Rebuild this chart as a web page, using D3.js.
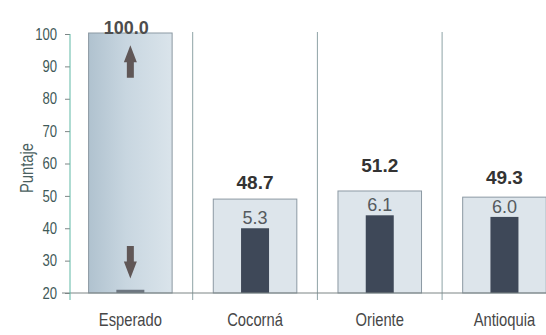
<!DOCTYPE html>
<html>
<head>
<meta charset="utf-8">
<script src="https://cdn.jsdelivr.net/npm/d3@7/dist/d3.min.js"></script>
<style>
  html, body { margin: 0; padding: 0; background: #ffffff; }
  svg { display: block; }
</style>
</head>
<body>
<div id="chart"></div>
<script>
// ---- data ----
const categories = ["Esperado", "Cocorná", "Oriente", "Antioquia"];
const scores = [100.0, 48.7, 51.2, 49.3];
const scoreLabels = ["100.0", "48.7", "51.2", "49.3"];
const deviations = [1.5, 5.3, 6.1, 6.0];
const deviationLabels = ["", "5.3", "6.1", "6.0"];
const yTicks = [20, 30, 40, 50, 60, 70, 80, 90, 100];
const yTitle = "Puntaje";

// ---- layout / style ----
const W = 546, H = 335;
const plot = { left: 68, top: 34, bottom: 293, bandWidth: 124.7 };
const labelOffsets = [0, 11, 20, 14];
const squeeze = 0.82; // condensed look of the original sans face
const font = "'Liberation Sans', Arial, sans-serif";

const svg = d3.select("#chart").append("svg")
  .attr("width", W).attr("height", H);

const defs = svg.append("defs");
const grad = defs.append("linearGradient").attr("id", "espGrad")
  .attr("x1", "0%").attr("x2", "100%").attr("y1", "0%").attr("y2", "0%");
grad.append("stop").attr("offset", "0%").attr("stop-color", "#b0c2cf");
grad.append("stop").attr("offset", "45%").attr("stop-color", "#c8d6e0");
grad.append("stop").attr("offset", "100%").attr("stop-color", "#dae4eb");

const x = d3.scaleBand()
  .domain(categories)
  .range([plot.left, plot.left + plot.bandWidth * categories.length])
  .paddingInner(0.33).paddingOuter(0.165);

const xBand = d3.scaleBand()
  .domain(categories)
  .range([plot.left, plot.left + plot.bandWidth * categories.length]);

const y = d3.scaleLinear().domain([20, 100]).range([plot.bottom, plot.top]);
// secondary scale for the dark (inner) bars
const y2 = d3.scaleLinear().domain([1.3, 17.3]).range([plot.bottom, plot.top]);

// category separators
svg.append("g").selectAll("line")
  .data(categories.slice(1))
  .join("line")
  .attr("x1", d => xBand(d)).attr("x2", d => xBand(d))
  .attr("y1", plot.top - 2).attr("y2", plot.bottom + 7)
  .attr("stroke", "#8ea3a6").attr("stroke-width", 1);

// outer bars
svg.append("g").selectAll("rect")
  .data(categories)
  .join("rect")
  .attr("x", d => x(d))
  .attr("width", x.bandwidth())
  .attr("y", (d, i) => y(scores[i]) - 1)
  .attr("height", (d, i) => plot.bottom - y(scores[i]) + 1)
  .attr("fill", (d, i) => i === 0 ? "url(#espGrad)" : "#dde5eb")
  .attr("stroke", "#8c99a3").attr("stroke-width", 1);

// inner dark bars
const innerW = 28;
svg.append("g").selectAll("rect")
  .data(categories)
  .join("rect")
  .attr("x", d => x(d) + x.bandwidth() / 2 - innerW / 2)
  .attr("width", innerW)
  .attr("y", (d, i) => y2(deviations[i]))
  .attr("height", (d, i) => plot.bottom - y2(deviations[i]))
  .attr("fill", (d, i) => i === 0 ? "#6d7680" : "#3e4858");

// arrows in the Esperado bar
const ax = x(categories[0]) + x.bandwidth() / 2;
function arrow(tipY, tailY) {
  const dir = tipY < tailY ? 1 : -1;
  const headLen = 17, headHalf = 6.5, shaftHalf = 3.5;
  const headBase = tipY + dir * headLen;
  const p = [
    [ax, tipY], [ax + headHalf, headBase], [ax + shaftHalf, headBase],
    [ax + shaftHalf, tailY], [ax - shaftHalf, tailY], [ax - shaftHalf, headBase],
    [ax - headHalf, headBase]
  ];
  svg.append("path").attr("d", "M" + p.join("L") + "Z").attr("fill", "#605757");
}
arrow(y(96.5), y(86.5));
arrow(y(24.5), y(34.5));

// x axis line
svg.append("line")
  .attr("x1", plot.left - 6).attr("x2", W)
  .attr("y1", plot.bottom).attr("y2", plot.bottom)
  .attr("stroke", "#7d8585").attr("stroke-width", 1);

// y axis
const yAxis = svg.append("g")
  .attr("transform", `translate(${plot.left + 2},0)`)
  .call(d3.axisLeft(y).tickValues(yTicks).tickSize(5).tickPadding(8).tickFormat(d3.format("d")));
yAxis.select(".domain").remove();
yAxis.selectAll(".tick line").attr("stroke", "#7d8585");
yAxis.selectAll(".tick text")
  .attr("fill", "#3f5a58")
  .style("font-family", font)
  .style("font-size", "16px")
  .each(function () {
    const t = d3.select(this);
    t.attr("x", +t.attr("x") / squeeze).attr("transform", `scale(${squeeze},1)`);
  });
svg.append("line")
  .attr("x1", plot.left + 2).attr("x2", plot.left + 2)
  .attr("y1", plot.top).attr("y2", plot.bottom + 7)
  .attr("stroke", "#5fb8a5").attr("stroke-width", 1);

// y title
svg.append("text")
  .attr("transform", `translate(33,168) rotate(-90) scale(${squeeze},1)`)
  .attr("text-anchor", "middle")
  .attr("fill", "#4a6060")
  .style("font-family", font)
  .style("font-size", "18px")
  .text(yTitle);

// category labels
svg.append("g").selectAll("text")
  .data(categories)
  .join("text")
  .attr("transform", d => `translate(${x(d) + x.bandwidth() / 2},326) scale(${squeeze},1)`)
  .attr("text-anchor", "middle")
  .attr("fill", "#474747")
  .style("font-family", font)
  .style("font-size", "18px")
  .text(d => d);

// score labels
svg.append("g").selectAll("text")
  .data(categories)
  .join("text")
  .attr("x", (d, i) => x(d) + x.bandwidth() / 2 - (i === 0 ? 4 : 0))
  .attr("y", (d, i) => y(scores[i]) - labelOffsets[i])
  .attr("text-anchor", "middle")
  .attr("fill", (d, i) => i === 0 ? "#4d4d4d" : "#333333")
  .style("font-family", font)
  .style("font-weight", "bold")
  .style("font-size", (d, i) => i === 0 ? "18px" : "19px")
  .text((d, i) => scoreLabels[i]);

// deviation labels
svg.append("g").selectAll("text")
  .data(categories.filter((d, i) => deviationLabels[i] !== ""))
  .join("text")
  .attr("x", d => x(d) + x.bandwidth() / 2)
  .attr("y", d => y2(deviations[categories.indexOf(d)]) - 4)
  .attr("text-anchor", "middle")
  .attr("fill", "#555a5e")
  .style("font-family", font)
  .style("font-size", "18px")
  .text(d => deviationLabels[categories.indexOf(d)]);
</script>
</body>
</html>
